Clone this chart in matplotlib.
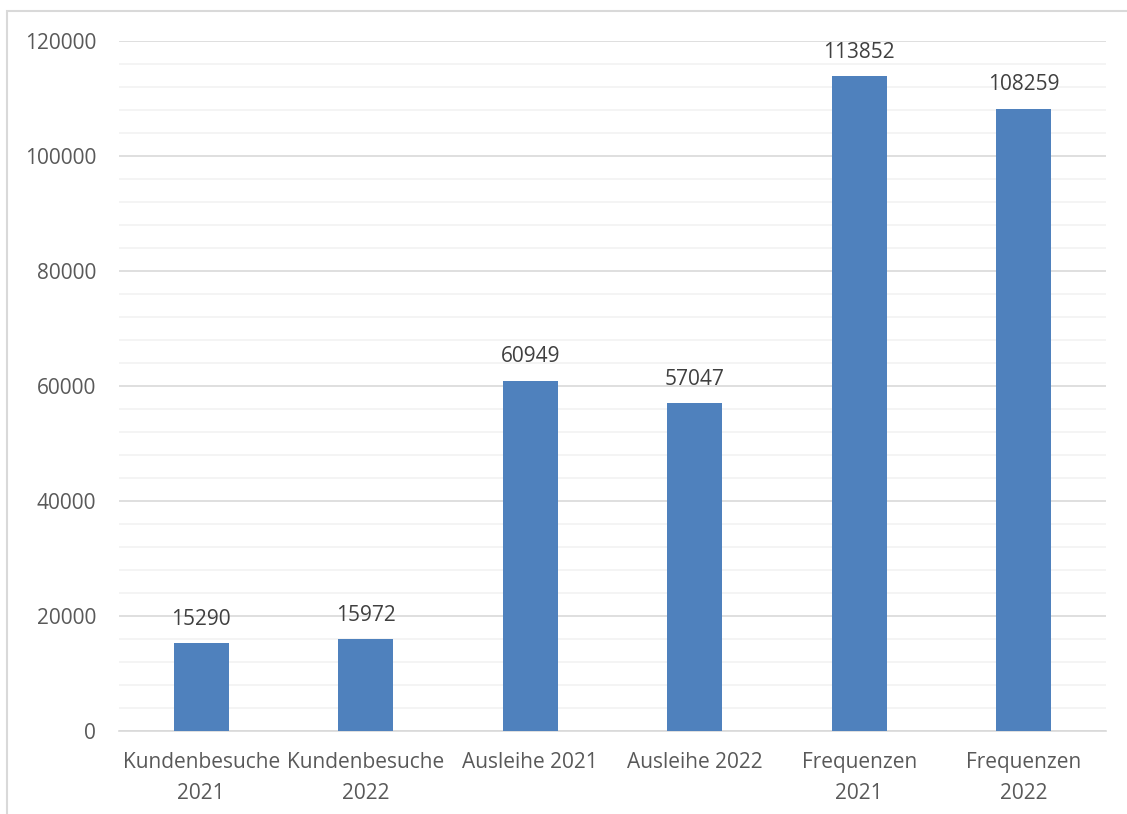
import numpy as np
import matplotlib.pyplot as plt
from matplotlib.patches import Rectangle

# Daten
kategorien = ['Kundenbesuche\n2021', 'Kundenbesuche\n2022', 'Ausleihe 2021',
              'Ausleihe 2022', 'Frequenzen\n2021', 'Frequenzen\n2022']
werte = [15290, 15972, 60949, 57047, 113852, 108259]

plt.rcParams['font.family'] = ['Open Sans', 'DejaVu Sans']

fig = plt.figure(figsize=(11.27, 8.14), dpi=100)
ax = fig.add_axes([119 / 1127, 1 - 731 / 814, (1106 - 119) / 1127, (731 - 41) / 814])

# Rahmen des Diagrammbereichs
fig.patches.append(Rectangle((7 / 1127, -0.05), 1.1, 1 - 11 / 814 + 0.05,
                             transform=fig.transFigure, fill=False,
                             edgecolor='#d9d9d9', linewidth=1.5))

x = np.arange(len(kategorien))
ax.bar(x, werte, width=0.335, color='#4f81bd', zorder=3)

for xi, w in zip(x, werte):
    ax.annotate(str(w), (xi, w), xytext=(0, 9.5), textcoords='offset points',
                ha='center', va='bottom', fontsize=15, color='#404040')

ax.set_xlim(-0.5, len(kategorien) - 0.5)
ax.set_ylim(0, 120000)
ax.set_yticks(np.arange(0, 120001, 20000))
ax.set_yticks(np.arange(0, 120001, 4000), minor=True)
ax.set_xticks(x)
ax.set_xticklabels(kategorien, linespacing=1.65)

ax.grid(axis='y', which='major', color='#d9d9d9', linewidth=1.2, zorder=0)
ax.grid(axis='y', which='minor', color='#f2f2f2', linewidth=1.2, zorder=0)
for s in ['top', 'right', 'left']:
    ax.spines[s].set_visible(False)
ax.spines['bottom'].set_color('#d9d9d9')
ax.spines['bottom'].set_linewidth(1.2)

ax.tick_params(axis='both', which='both', length=0, labelsize=15, colors='#595959')
ax.tick_params(axis='y', pad=16.5)
ax.tick_params(axis='x', pad=15)

fig.savefig('out.png', dpi=100)
